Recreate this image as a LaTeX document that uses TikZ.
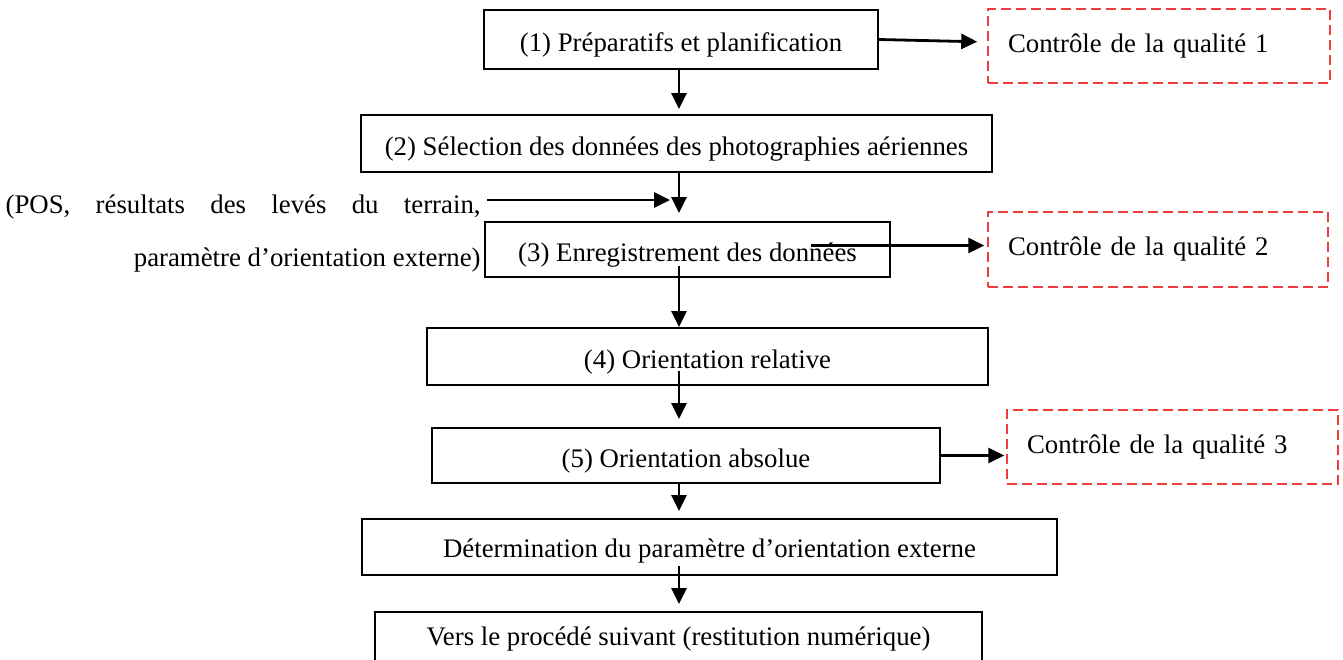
\documentclass[tikz,border=0pt]{standalone}
\usepackage{fontspec}
\setmainfont{Liberation Serif}
\usepackage{xcolor}
\usetikzlibrary{arrows.meta,positioning}
\definecolor{qred}{RGB}{240,60,60}

\begin{document}
\begin{tikzpicture}[
    x=0.5pt, y=-0.5pt,
    font=\fontsize{13.4}{16}\selectfont,
    box/.style={rectangle, draw, line width=1pt, inner sep=2pt, align=center, text height=12pt, text depth=0pt},
    qbox/.style={rectangle, draw=qred, line width=0.75pt, dash pattern=on 5pt off 2.5pt,
        inner xsep=10pt, align=left},
    arrow/.style={-{Triangle[length=8pt,width=7.5pt]}, line width=1.4pt}
]
    \clip (0,0) rectangle (1343,659);
    \coordinate (spine) at (679,0);

    % main chain
    \node[box, minimum width=197pt, minimum height=29.5pt] (prep) at (681,39.5) {(1) Préparatifs et planification};
    \node[box, minimum width=315.5pt, minimum height=28.5pt] (select) at (676.5,143.5) {(2) Sélection des données des photographies aériennes};
    \node[box, minimum width=202.5pt, minimum height=27.5pt] (record) at (687.5,249.5) {(3) Enregistrement des données};
    \node[box, minimum width=280.5pt, minimum height=28.5pt] (relor) at (707.5,356.5) {(4) Orientation relative};
    \node[box, minimum width=254pt, minimum height=27.5pt] (absor) at (686,455.5) {(5) Orientation absolue};
    \node[box, text height=10pt, minimum width=347.5pt, minimum height=28pt] (extor) at (709.5,547) {Détermination du paramètre d’orientation externe};
    \node[box, text height=8pt, minimum width=303.5pt, minimum height=25pt] (next) at (678.5,637) {Vers le procédé suivant (restitution numérique)};

    % quality checks
    \node[qbox, text width=151pt, minimum height=37pt] (qual1) at (1159,46) {Contrôle de la qualité 1};
    \node[qbox, text width=150pt, minimum height=37.5pt] (qual2) at (1158,249.5) {Contrôle de la qualité 2};
    \node[qbox, text width=145.5pt, minimum height=37pt] (qual3) at (1172.5,447) {Contrôle de la qualité 3};

    % input data
    \node[anchor=east, align=right, inner sep=0pt, font=\fontsize{13.4}{26.5}\selectfont] (inputs) at (481,233.5)
        {\makebox[237.5pt][s]{(POS, résultats des levés du terrain,}\\paramètre d’orientation externe)};
    \coordinate (merge) at (670,200);

    \draw[arrow, shorten >=2.5pt] (prep.south -| spine) -- (select.north -| spine);
    \draw[arrow, shorten >=4pt] (select.south -| spine) -- (record.north -| spine);
    \draw[arrow] ([yshift=6pt]record.south -| spine) -- (relor.north -| spine);
    \draw[arrow, shorten >=4pt] ([yshift=7.5pt]relor.south -| spine) -- (absor.north -| spine);
    \draw[arrow, shorten >=3.5pt] (absor.south -| spine) -- (extor.north -| spine);
    \draw[arrow, shorten >=3.5pt] ([yshift=5pt]extor.south -| spine) -- (next.north -| spine);

    \draw[arrow, shorten >=5pt] (prep.east) -- ([yshift=2pt]qual1.west);
    \draw[arrow, shorten >=1.5pt] ([xshift=-40pt,yshift=2pt]record.east) -- ([yshift=2pt]qual2.west);
    \draw[arrow, shorten >=1pt] (absor.east) -- (absor.east -| qual3.west);
    \draw[arrow] ([xshift=3pt]inputs.east |- merge) -- (merge);
\end{tikzpicture}
\end{document}
